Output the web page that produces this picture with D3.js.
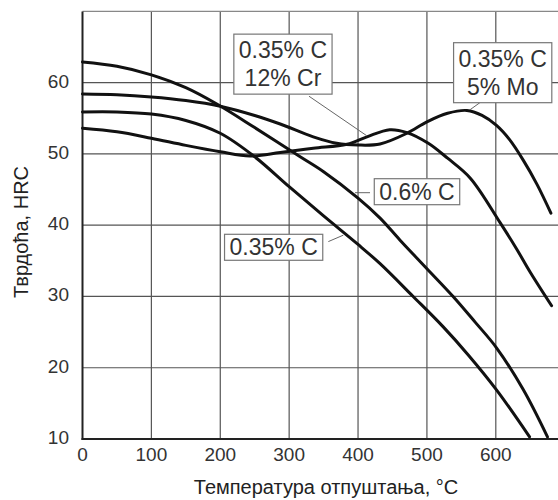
<!DOCTYPE html>
<html>
<head>
<meta charset="utf-8">
<title>Тврдоћа, HRC</title>
<script src="https://cdn.jsdelivr.net/npm/d3@7"></script>
<style>
  body { margin: 0; background: #fff; }
  svg { display: block; font-family: "Liberation Sans", Arial, sans-serif; }
</style>
</head>
<body>
<script>
// size of the svg
var w = 558;
var h = 500;

// ticks and grid
var xTicks = [0, 100, 200, 300, 400, 500, 600];
var yTicks = [10, 20, 30, 40, 50, 60];
var xGrid = [100, 200, 300, 400, 500, 600];
var yGrid = [20, 30, 40, 50, 60, 70];

// temperature (°C) and hardness (HRC) for every steel
var tC06 = [0, 50, 100, 150, 195, 250, 316, 350, 400, 432, 461, 500, 538, 570, 601, 640, 675];
var hC06 = [62.9, 62.3, 61.1, 59.3, 57.0, 53.7, 49.6, 47.5, 43.8, 41.0, 37.9, 33.9, 30.0, 26.4, 22.8, 16.9, 10.3];

var tC035 = [0, 50, 100, 150, 200, 250, 300, 350, 400, 432, 480, 523, 560, 601, 649];
var hC035 = [55.9, 55.9, 55.6, 54.7, 52.9, 49.6, 45.4, 41.3, 37.3, 34.6, 30.0, 25.8, 21.8, 16.9, 10.3];

var tMo = [0, 50, 100, 150, 200, 250, 287, 335, 369, 400, 432, 471, 500, 530, 558, 580, 601, 620, 640, 660, 680];
var hMo = [58.4, 58.3, 58.0, 57.5, 56.7, 55.4, 54.2, 52.4, 51.5, 51.25, 51.4, 52.9, 54.5, 55.7, 56.1, 55.4, 54.0, 52.0, 49.1, 45.7, 41.7];

var tCr = [0, 50, 100, 150, 200, 243, 287, 335, 384, 413, 446, 471, 502, 530, 563, 606, 630, 650, 681];
var hCr = [53.6, 53.1, 52.2, 51.2, 50.3, 49.7, 50.2, 50.8, 51.35, 52.4, 53.4, 53.0, 51.5, 49.4, 46.6, 40.4, 36.7, 33.4, 28.7];

// callouts: text lines, box centre and leader line, all in data units
var calloutText = [["0.35% C", "12% Cr"], ["0.35% C", "5% Mo"], ["0.6% C"], ["0.35% C"]];
var calloutT = [291, 610, 485.6, 277.5];
var calloutH = [62.6, 61.4, 44.7, 36.9];
var leaderT1 = [328.8, 577, 417.4, 356.9];
var leaderH1 = [58.1, 57.2, 44.56, 37.7];
var leaderT2 = [412.6, 562.6, 395.6, 378.6];
var leaderH2 = [52.56, 56.2, 44.56, 38.6];

var series = [
  { t: tC06, h: hC06 },
  { t: tC035, h: hC035 },
  { t: tMo, h: hMo },
  { t: tCr, h: hCr }
];

var x = d3.scaleLinear().domain([0, 690]).range([82.5, 557.8]);
var y = d3.scaleLinear().domain([10, 70]).range([439, 11.4]);

var svg = d3.select("body").append("svg").attr("width", w).attr("height", h);

// grid
svg.append("g").selectAll("line").data(xGrid).enter().append("line")
  .attr("x1", function(d){ return x(d); }).attr("x2", function(d){ return x(d); })
  .attr("y1", y(70)).attr("y2", y(10))
  .attr("stroke", "#555").attr("stroke-width", 1.2);
svg.append("g").selectAll("line").data(yGrid).enter().append("line")
  .attr("x1", x(0)).attr("x2", w)
  .attr("y1", function(d){ return y(d); }).attr("y2", function(d){ return y(d); })
  .attr("stroke", function(d){ return d == 70 ? "#888" : "#555"; })
  .attr("stroke-width", 1.2);

// axes lines
svg.append("line").attr("x1", x(0)).attr("x2", x(0)).attr("y1", y(70)).attr("y2", y(10) + 1)
  .attr("stroke", "#222").attr("stroke-width", 2);
svg.append("line").attr("x1", x(0) - 1).attr("x2", w).attr("y1", y(10)).attr("y2", y(10))
  .attr("stroke", "#222").attr("stroke-width", 2);

// tick labels
svg.append("g").selectAll("text").data(xTicks).enter().append("text")
  .attr("x", function(d){ return x(d); }).attr("y", 461)
  .attr("text-anchor", "middle").attr("font-size", 19).attr("fill", "#333")
  .text(function(d){ return d; });
svg.append("g").selectAll("text").data(yTicks).enter().append("text")
  .attr("x", 69).attr("y", function(d){ return y(d) + 5; })
  .attr("text-anchor", "end").attr("font-size", 19).attr("fill", "#333")
  .text(function(d){ return d; });

// axis titles
svg.append("text").attr("x", 326).attr("y", 494).attr("text-anchor", "middle")
  .attr("font-size", 20).attr("fill", "#222").text("Температура отпуштања, °C");
svg.append("text").attr("transform", "translate(28,232) rotate(-90)").attr("text-anchor", "middle")
  .attr("font-size", 20).attr("fill", "#222").text("Тврдоћа, HRC");

// curves
var line = d3.line()
  .x(function(d){ return x(d[0]); })
  .y(function(d){ return y(d[1]); })
  .curve(d3.curveCatmullRom.alpha(0.5));

svg.append("g").selectAll("path").data(series).enter().append("path")
  .attr("d", function(s){ return line(d3.zip(s.t, s.h)); })
  .attr("fill", "none").attr("stroke", "#111").attr("stroke-width", 3)
  .attr("stroke-linejoin", "round").attr("stroke-linecap", "round");

// leaders
svg.append("g").selectAll("line").data(calloutText).enter().append("line")
  .attr("x1", function(d, i){ return x(leaderT1[i]); })
  .attr("y1", function(d, i){ return y(leaderH1[i]); })
  .attr("x2", function(d, i){ return x(leaderT2[i]); })
  .attr("y2", function(d, i){ return y(leaderH2[i]); })
  .attr("stroke", "#666").attr("stroke-width", 1);

// callout boxes
var lineGap = 28;
calloutText.forEach(function(lines, i) {
  var cx = x(calloutT[i]);
  var cy = y(calloutH[i]);
  var g = svg.append("g");
  var rect = g.append("rect").attr("fill", "#fff").attr("stroke", "#777").attr("stroke-width", 1.2);
  var txt = g.append("text").attr("text-anchor", "middle").attr("font-size", 23).attr("fill", "#333");
  lines.forEach(function(l, j) {
    txt.append("tspan").attr("x", cx)
      .attr("y", cy + (j - (lines.length - 1) / 2) * lineGap + 8)
      .text(l);
  });
  var bw = txt.node().getBBox().width + 10;
  var bh = lines.length * lineGap + (lines.length == 1 ? -2 : 4);
  rect.attr("x", cx - bw / 2).attr("y", cy - bh / 2).attr("width", bw).attr("height", bh);
});
</script>
</body>
</html>
